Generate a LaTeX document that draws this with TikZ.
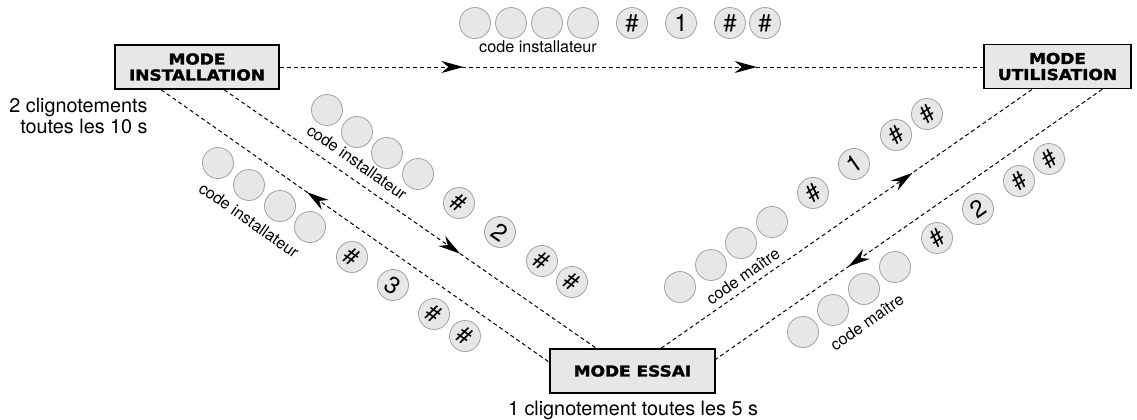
\documentclass[tikz,border=0pt]{standalone}
\usepackage{fontspec}
\setmainfont{TeX Gyre Heros}
\newfontfamily\boxfont[FakeStretch=1.13,FakeBold=2]{DejaVu Sans Bold}
\usetikzlibrary{arrows.meta,calc,decorations.markings}
\tikzset{every node/.append style={align=center}}
\definecolor{keygray}{RGB}{230,231,232}
\definecolor{keyedge}{RGB}{160,162,165}
\tikzset{
  modebox/.style={draw, line width=0.8pt, fill=keygray, inner sep=0pt, minimum height=22pt,
    font=\boxfont\fontsize{7.5}{8}\selectfont},
  key/.style={circle, draw=keyedge, line width=0.4pt, fill=keygray, minimum size=15.5pt,
    inner sep=0pt, font=\fontsize{12}{12}\selectfont},
  hint/.style={font=\fontsize{8.1}{9}\selectfont, inner sep=0pt},
  blink/.style={font=\fontsize{9.9}{8.6}\selectfont, inner sep=0pt},
  flow/.style={dash pattern=on 2pt off 1.5pt, line width=0.5pt},
  arrowat/.style={postaction={decorate, decoration={markings,
    mark=at position #1 with {\arrow{Stealth[length=11pt,width=6pt,inset=3.5pt]}}}}},
  arrowback/.style={postaction={decorate, decoration={markings,
    mark=at position #1 with {\arrowreversed{Stealth[length=11pt,width=6pt,inset=3.5pt]}}}}}
}

\begin{document}
\begin{tikzpicture}[x=0.5pt, y=-0.5pt]
    \useasboundingbox (0,0) rectangle (1137,419);

    % Modes
    \node[modebox, minimum width=82pt] (inst) at (197,67) {MODE\\INSTALLATION};
    \node[modebox, minimum width=73.5pt] (util) at (1057.5,66.5) {MODE\\UTILISATION};
    \node[modebox, minimum width=82.5pt] (essai) at (632.5,371) {MODE ESSAI};
    \node[blink, anchor=north east, align=right] (instblink) at (148,98) {2 clignotements\\toutes les 10 s};
    \node[blink, anchor=base] (essaiblink) at (633,415) {1 clignotement toutes les 5 s};

    % Transitions
    \draw[flow, arrowat={0.261}, arrowat={0.678}] (inst.east) -- (inst.east -| util.west);
    \draw[flow, arrowback={0.376}] ($(inst.south west)+(47,0)$) -- ($(essai.north west)+(0,14)$);
    \draw[flow, arrowat={0.634}] ($(inst.south west)+(110,0)$) -- ($(essai.north west)+(47,0)$);
    \draw[flow, arrowat={0.677}] ($(essai.north west)+(112,0)$) -- ($(util.south west)+(49,0)$);
    \draw[flow, arrowat={0.657}] ($(util.south west)+(119,0)$) -- ($(essai.north east)+(0,11)$);

    % Installation -> utilisation
    \node[key] (ta1) at (475,23) {};
    \node[key] (ta2) at (511,23) {};
    \node[key] (ta3) at (547,23) {};
    \node[key] (ta4) at (583,23) {};
    \node[key] (ta5) at (632,23) {\#};
    \node[key] (ta6) at (681,23) {1};
    \node[key] (ta7) at (730,23) {\#};
    \node[key] (ta8) at (765,23) {\#};
    \node[hint] (topcode) at (538,47) {code installateur};

    % Installation -> essai
    \node[key] (ie1) at (327,110) {};
    \node[key] (ie2) at (357,132) {};
    \node[key] (ie3) at (387,153) {};
    \node[key] (ie4) at (418,174) {};
    \node[key, rotate=-35] (ie5) at (459,203) {\#};
    \node[key, rotate=-35] (ie6) at (500,232) {2};
    \node[key, rotate=-35] (ie7) at (542,261) {\#};
    \node[key, rotate=-35] (ie8) at (572,282) {\#};
    \node[hint, rotate=-35] (iecode) at (357,162) {code installateur};

    % Essai -> installation
    \node[key] (ei1) at (218,163) {};
    \node[key] (ei2) at (249,185) {};
    \node[key] (ei3) at (280,206) {};
    \node[key] (ei4) at (310,227) {};
    \node[key, rotate=-35] (ei5) at (352,257) {\#};
    \node[key, rotate=-35] (ei6) at (393,285) {3};
    \node[key, rotate=-35] (ei7) at (434,314) {\#};
    \node[key, rotate=-35] (ei8) at (465,336) {\#};
    \node[hint, rotate=-35] (eicode) at (249,220) {code installateur};

    % Essai -> utilisation
    \node[key] (eu1) at (680,287) {};
    \node[key] (eu2) at (711,265) {};
    \node[key] (eu3) at (741,243) {};
    \node[key] (eu4) at (772,222) {};
    \node[key, rotate=35] (eu5) at (813,193) {\#};
    \node[key, rotate=35] (eu6) at (854,164) {1};
    \node[key, rotate=35] (eu7) at (896,135) {\#};
    \node[key, rotate=35] (eu8) at (927,114) {\#};
    \node[hint, rotate=35] (eucode) at (743,276) {code maître};

    % Utilisation -> essai
    \node[key] (ue1) at (803,332) {};
    \node[key] (ue2) at (833,310) {};
    \node[key] (ue3) at (864,289) {};
    \node[key] (ue4) at (895,267) {};
    \node[key, rotate=35] (ue5) at (937,238) {\#};
    \node[key, rotate=35] (ue6) at (978,209) {2};
    \node[key, rotate=35] (ue7) at (1019,181) {\#};
    \node[key, rotate=35] (ue8) at (1049,159) {\#};
    \node[hint, rotate=35] (uecode) at (867,322) {code maître};
\end{tikzpicture}
\end{document}
